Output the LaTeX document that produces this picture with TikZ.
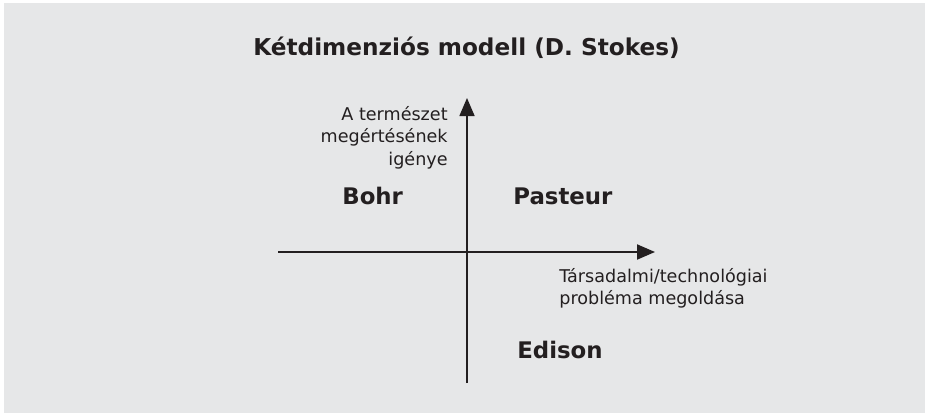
\documentclass[tikz,border=0pt]{standalone}
\usepackage{fontspec}
\setmainfont{DejaVu Sans}
\usetikzlibrary{arrows.meta}
\definecolor{bggray}{RGB}{230,231,232}
\definecolor{ink}{RGB}{35,31,32}

\begin{document}
\begin{tikzpicture}
[>={Triangle[length=0.36cm,width=0.3cm]},
axis/.style={->, draw=ink},
scientist/.style={anchor=base west, inner sep=0pt, text=ink,
font=\bfseries\fontsize{13}{15}\selectfont},
axislabel/.style={inner sep=0pt, text=ink, font=\fontsize{10}{12.8}\selectfont}]
  \useasboundingbox (0,0) rectangle (18.5,8.3);
  \fill [bggray] (0.08,0.04) rectangle (18.5,8.24);
  \node [anchor=base, inner sep=0pt, text=ink, font=\bfseries\fontsize{13.2}{16}\selectfont] (title) at (9.33,7.2) {Kétdimenziós modell (D. Stokes)};
  \coordinate (west) at (5.56,3.26);
  \coordinate (east) at (13.1,3.26);
  \coordinate (south) at (9.34,0.64);
  \coordinate (north) at (9.34,6.34);
  \draw [axis, line width=1.1pt] (west) -- (east);
  \draw [axis, line width=0.9pt] (south) -- (north);
  \node [axislabel, anchor=north east, align=right] (nature) at (8.96,6.18) {A természet\\megértésének\\igénye};
  \node [axislabel, anchor=north west, align=left] (society) at (11.18,2.94) {Társadalmi/technológiai\\probléma megoldása};
  \node [scientist] (bohr) at (6.84,4.22) {Bohr};
  \node [scientist] (pasteur) at (10.26,4.22) {Pasteur};
  \node [scientist] (edison) at (10.34,1.14) {Edison};
\end{tikzpicture}
\end{document}
